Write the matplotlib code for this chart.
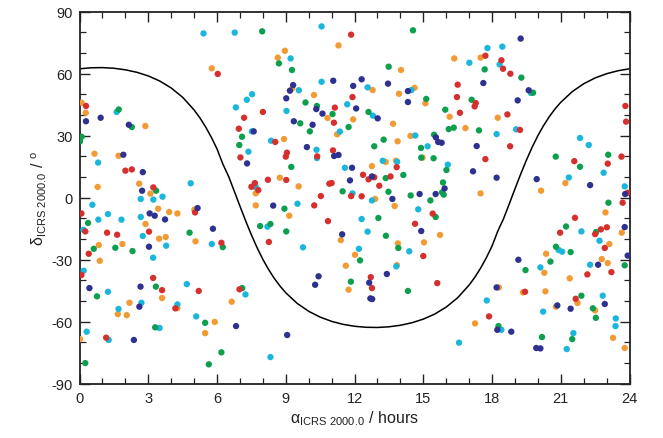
import matplotlib
matplotlib.use("Agg")
import matplotlib.pyplot as plt
from matplotlib.ticker import MultipleLocator

plt.rcParams['font.family'] = ['Liberation Sans', 'DejaVu Sans']
plt.rcParams['mathtext.fontset'] = 'custom'
plt.rcParams['mathtext.rm'] = 'Liberation Sans'
plt.rcParams['mathtext.it'] = 'Liberation Sans:italic'
plt.rcParams['axes.unicode_minus'] = False

# ---- data (RA in hours, Dec in degrees) ----
red_pts = [(0.28,44.3),(6.03,59.8),(8.00,41.4),(11.14,43.5),(7.18,38.6),(11.10,36.2),(6.95,33.3),(11.85,78.8),
    (17.71,68.6),(16.50,54.6),(11.91,48.6),(16.47,48.6),(17.29,45.7),(17.24,44.1),(16.60,41.0),
    (18.41,66.4),(18.48,62.3),(18.80,59.9),(18.67,40.2),(19.22,32.7),(23.82,44.3),(23.85,36.7),
    (2.00,13.0),(2.28,13.6),(3.22,4.9),(0.08,-7.7),(5.04,-7.2),(0.25,-16.4),(1.20,-17.0),(1.64,-18.0),(3.03,-16.5),(0.40,-27.2),
    (8.54,26.9),(7.02,19.4),(9.05,21.7),(9.00,19.8),(11.06,22.8),(10.37,19.9),(7.65,7.0),(7.50,5.2),(7.80,3.6),(8.22,8.6),
    (9.02,8.5),(10.90,6.7),(11.00,7.0),(11.85,0.7),(10.53,0.7),(10.24,-3.8),(10.84,-11.4),(6.19,-21.9),(8.26,-21.5),
    (17.71,18.6),(13.84,14.7),(12.37,11.0),(12.86,9.8),(12.61,8.8),(13.57,10.2),(13.08,5.7),(12.31,0.6),(15.41,-7.8),(14.64,-12.7),(15.00,-28.3),
    (18.79,24.8),(23.65,19.8),(21.59,17.6),(23.05,16.4),(23.92,2.3),(23.70,-2.5),(21.62,-9.8),(20.97,-17.0),(22.75,-15.4),(23.01,-14.4),(22.50,-17.7),(22.92,-24.4),
    (0.08,-37.5),(3.21,-38.9),(3.60,-44.8),(5.20,-45.2),(4.18,-53.6),(1.16,-67.8),(6.98,-44.4),
    (12.71,-38.5),(12.76,-43.8),(15.61,-41.4),(17.87,-57.5),(22.16,-37.2),(23.21,-36.1),(19.44,-45.6),(21.65,-49.0)]

orange_pts = [(0.09,45.9),(0.27,41.0),(2.87,34.6),(5.77,62.5),
    (11.30,73.6),(8.96,71.0),(8.65,67.7),(9.28,52.7),(10.23,49.6),(10.82,38.5),(11.24,30.6),
    (17.50,67.7),(16.35,67.3),(14.03,61.7),(12.79,52.0),(14.62,53.1),(13.94,50.2),(15.09,45.6),(11.94,37.8),(16.15,39.1),(13.68,35.7),(16.84,33.6),(14.44,29.8),
    (18.25,38.6),
    (0.65,21.2),(1.70,20.2),(0.79,5.1),(2.60,6.7),(3.09,1.9),(3.43,-5.4),(3.91,-7.0),(4.27,-7.7),(5.01,-5.9),(2.88,-12.8),(3.47,-19.9),(3.76,-19.1),(5.06,-21.2),(0.84,-23.0),(1.87,-22.5),(0.88,-30.6),
    (8.92,28.3),(8.74,9.6),(9.56,5.4),(7.69,2.0),(7.69,-3.8),(9.15,-8.8),(11.40,-20.6),
    (13.88,27.2),(14.97,19.3),(13.36,17.2),(13.81,17.8),(12.76,15.2),(12.90,-0.7),(17.50,2.0),(13.75,-4.1),(15.73,-18.1),(13.89,-22.2),(15.03,-21.7),(12.02,-27.7),
    (21.20,7.0),(20.14,3.3),(22.95,-7.2),(23.66,-17.0),(23.12,-22.5),(20.36,-27.2),(22.79,-29.8),
    (3.60,-48.6),(2.18,-50.9),(1.67,-56.4),(2.06,-56.9),(4.27,-53.5),(5.48,-65.6),(0.02,-68.5),
    (11.62,-33.0),(11.74,-44.6),(6.64,-50.4),(5.90,-60.2),(13.85,-32.7),(17.26,-60.9),
    (23.05,-31.7),(20.28,-36.4),(21.39,-39.1),(18.30,-43.5),(19.35,-45.9),(20.33,-45.4),(21.73,-51.0),(20.79,-52.8),(22.50,-54.6),(23.28,-67.9),(23.79,-72.8)]

green_pts = [(1.71,42.6),(2.28,34.1),
    (7.97,80.4),(8.70,64.9),(9.27,61.7),(9.86,46.0),(10.36,44.3),(11.04,40.4),(9.63,35.9),(10.05,32.0),(11.74,34.1),
    (14.55,80.9),(17.68,62.0),(13.49,63.3),(15.13,47.7),(17.11,47.3),(12.61,41.4),(15.96,42.5),(16.11,33.1),(16.33,33.8),(17.43,32.5),(15.47,30.4),
    (19.28,58.0),(19.79,50.7),
    (0.09,29.4),(0.02,27.2),(3.34,3.3),(0.37,-12.3),(4.80,-17.0),(0.62,-24.8),(1.56,-24.3),(2.31,-25.9),
    (7.09,29.4),(6.97,25.4),(9.24,14.8),(11.48,3.0),(8.94,-5.4),(7.88,-13.8),(8.33,-12.8),(9.02,-16.4),(6.25,-24.0),(12.24,-30.4),
    (13.27,28.0),(12.86,24.8),(14.90,24.0),(14.91,19.3),(15.45,19.0),(16.01,13.3),(13.36,9.4),(14.13,10.9),(15.86,7.3),(13.48,2.8),
    (15.82,2.5),(15.89,1.4),(14.45,1.0),(15.31,-1.4),(15.54,-9.4),(13.04,-9.9),(13.37,-18.5),(13.91,-24.4),
    (20.78,19.8),(23.07,20.7),(21.84,14.9),(23.08,-2.5),(21.23,-14.0),(22.54,-16.7),(20.79,-23.8),(21.43,-26.4),
    (0.76,-47.8),(3.33,-43.1),(5.48,-60.6),(3.30,-62.8),(0.25,-80.1),(5.64,-80.7),
    (7.10,-43.8),(11.84,-40.7),(6.19,-74.9),(14.33,-45.2),
    (20.55,-31.0),(23.79,-32.8),(19.46,-35.1),(21.90,-47.5),(22.40,-53.6),(22.53,-58.2),(18.28,-62.2),(20.18,-67.5),(21.50,-68.5)]

cyan_pts = [(5.41,79.4),(1.62,41.4),
    (6.77,79.8),(10.56,82.8),(9.21,67.3),(9.57,51.9),(10.56,56.0),(7.53,50.0),(7.30,47.3),(6.82,43.6),(11.68,45.1),(9.03,41.9),(7.52,32.0),(11.36,31.9),
    (17.80,72.3),(17.01,65.2),(12.57,53.3),(14.48,52.0),(12.80,39.6),(14.65,30.0),
    (18.45,73.0),(18.33,64.4),(19.70,50.6),(18.20,30.7),(19.05,33.0),
    (0.81,16.9),(3.62,0.4),(2.67,-0.7),(3.22,-1.0),(4.85,6.9),(0.56,-3.5),(1.24,-8.0),(2.67,-9.4),(0.82,-10.7),(1.83,-10.7),(0.17,-15.6),(2.76,-18.6),(5.77,-22.5),(3.78,-23.3),(3.21,-29.1),
    (8.36,27.5),(7.37,22.2),(10.34,23.1),(10.36,19.1),(11.58,14.4),(7.69,5.0),(11.91,2.0),(9.51,-3.0),(8.20,-14.1),(9.75,-24.1),
    (15.19,24.8),(13.23,17.8),(13.86,17.3),(16.07,15.9),(12.76,-1.4),(14.78,-5.7),(12.31,-10.4),(12.57,-16.5),(12.19,-24.8),(14.39,-26.0),
    (21.84,28.8),(22.22,25.4),(22.87,12.0),(21.35,9.7),(23.79,5.4),(21.90,-16.4),(22.69,-20.9),(20.91,-25.4),(21.06,-26.2),
    (0.18,-35.4),(1.24,-45.6),(4.68,-41.9),(2.70,-50.9),(1.70,-53.9),(4.27,-51.7),(5.09,-57.5),(3.49,-63.1),(0.31,-64.9),(1.27,-68.9),
    (7.24,-46.9),(8.33,-77.2),(13.82,-33.3),(17.77,-49.8),(16.56,-70.2),
    (22.28,-32.5),(20.11,-33.8),(22.83,-47.5),(20.23,-55.2),(23.40,-58.5),(23.39,-62.2),(18.41,-64.0),(21.55,-65.6),(21.26,-73.3)]

blue_pts = [(0.28,36.9),(0.92,38.6),(2.15,35.2),
    (9.32,54.4),(9.18,51.7),(11.07,56.5),(9.02,48.0),(10.33,42.8),(10.60,40.6),(9.35,36.9),(10.17,35.2),(7.60,32.0),
    (12.31,57.2),(11.94,54.0),(13.46,55.1),(14.33,51.5),(17.62,55.4),(14.33,46.2),(12.07,43.1),(13.01,38.3),
    (19.25,76.9),(19.60,51.9),(19.12,47.0),
    (1.91,20.7),(2.76,12.3),(2.73,3.3),(3.06,-7.7),(3.28,-8.8),(5.15,-5.1),(3.73,-10.6),(5.82,-15.1),(3.03,-23.8),
    (9.92,24.4),(11.11,20.1),(11.30,20.6),(7.31,16.5),(11.89,14.4),(11.80,8.3),(8.45,-3.9),(11.46,-17.8),
    (15.55,29.1),(15.65,26.9),(15.80,26.5),(17.33,24.9),(17.17,12.7),(12.76,10.2),(15.93,4.4),(15.54,1.7),(14.84,1.7),(13.65,-0.7),(14.91,-16.2),
    (18.20,9.6),(19.95,8.9),(22.28,6.0),(23.81,1.7),(23.79,-14.3),(23.92,-28.1),(19.15,-30.1),
    (0.43,-43.8),(2.66,-43.1),(2.61,-52.8),(2.37,-68.9),
    (10.43,-38.1),(10.28,-42.2),(6.83,-62.2),(9.06,-66.5),
    (13.41,-37.0),(12.64,-41.2),(12.69,-48.8),(12.77,-49.1),
    (22.63,-32.5),(18.20,-43.5),(20.85,-52.2),(21.43,-53.8),(22.92,-51.5),(18.23,-64.0),(18.84,-64.9),(19.93,-72.8),(20.11,-73.0)]

# Galactic plane curve
curve_ra = [0, 0.5, 1, 1.5, 2, 2.5, 3, 3.5, 4, 4.5, 5, 5.25, 5.5, 5.75, 6, 6.25, 6.5, 6.75, 7, 7.25, 7.5, 7.75, 8,
            8.25, 8.5, 8.75, 9, 9.5, 10, 10.5, 11, 11.5, 12, 12.5, 13, 13.5, 14, 14.5, 15, 15.5, 16, 16.5, 17,
            17.25, 17.5, 17.75, 18, 18.25, 18.5, 18.75, 19, 19.25, 19.5, 19.75, 20, 20.25, 20.5, 20.75, 21,
            21.5, 22, 22.5, 23, 23.5, 24]
curve_dec = [62.28, 62.77, 62.86, 62.54, 61.80, 60.59, 58.83, 56.37, 53.0, 48.48, 42.36, 38.57, 34.18, 29.17,
             23.49, 16.29, 10.33, 3.14, -4.17, -11.33, -18.10, -24.33, -29.92, -34.84, -39.13, -42.87, -46.08,
             -51.24, -55.04, -57.86, -59.91, -61.35, -62.28, -62.77, -62.86, -62.54, -61.80, -60.59, -58.83,
             -56.37, -53.0, -48.48, -42.36, -38.57, -34.18, -29.17, -23.49, -16.29, -10.33, -3.14, 4.17, 11.33,
             18.10, 24.33, 29.92, 34.84, 39.13, 42.87, 46.08, 51.24, 55.04, 57.86, 59.91, 61.35, 62.28]

x_ticks = [0, 3, 6, 9, 12, 15, 18, 21, 24]
y_ticks = [-90, -60, -30, 0, 30, 60, 90]

colors = {'orange': '#f29b34', 'cyan': '#1bb6dc', 'green': '#0d9f4d', 'red': '#d5302e', 'blue': '#2f3190'}

fig = plt.figure(figsize=(6.63, 4.39), dpi=100)
ax = fig.add_axes([0.12, 0.124, 0.8295, 0.8475])

for name, pts in [('orange', orange_pts), ('cyan', cyan_pts), ('green', green_pts), ('red', red_pts), ('blue', blue_pts)]:
    xs = [p[0] for p in pts]
    ys = [p[1] for p in pts]
    ax.scatter(xs, ys, s=21, color=colors[name], edgecolors='none', zorder=3)

ax.plot(curve_ra, curve_dec, color='black', lw=1.1, zorder=2)

ax.set_xlim(0, 24)
ax.set_ylim(-90, 90)
ax.set_xticks(x_ticks)
ax.set_yticks(y_ticks)
ax.xaxis.set_minor_locator(MultipleLocator(1))
ax.yaxis.set_minor_locator(MultipleLocator(10))
ax.tick_params(which='both', direction='in', top=True, right=True, labelsize=10.5, colors='#222222')
ax.tick_params(which='major', length=7, width=1.0, pad=5)
ax.tick_params(which='minor', length=4, width=0.9)
for sp in ax.spines.values():
    sp.set_linewidth(1.3)
    sp.set_color('#222222')

ax.set_xlabel('α$_{\\mathrm{ICRS\\ 2000.0}}$ / hours', fontsize=11.5, color='#222222', labelpad=3)
ax.set_ylabel('δ$_{\\mathrm{ICRS\\ 2000.0}}$ / $^{\\mathrm{o}}$', fontsize=11.5, color='#222222', labelpad=2)

fig.savefig('out.png', dpi=100)
